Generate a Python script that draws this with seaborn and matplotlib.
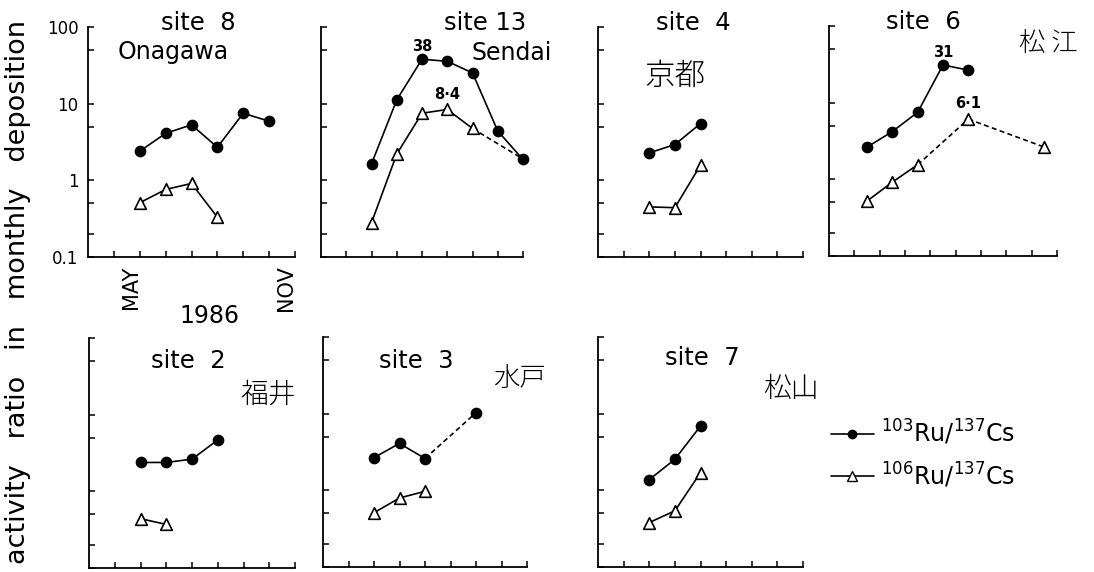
import numpy as np
import pandas as pd
import matplotlib
matplotlib.use("Agg")
import matplotlib.pyplot as plt
import seaborn as sns
from matplotlib.lines import Line2D
from matplotlib.ticker import NullLocator, FixedLocator, FixedFormatter
from matplotlib.transforms import ScaledTranslation

sns.set_style("ticks")
plt.rcParams["font.family"] = ["DejaVu Sans", "Noto Sans CJK JP"]
plt.rcParams["mathtext.fontset"] = "dejavusans"
for k in ("text.color", "axes.labelcolor", "xtick.color", "ytick.color", "axes.edgecolor"):
    plt.rcParams[k] = "black"

nan = np.nan

# ---- activity ratios in monthly deposition, 1986 (month number 5 = May) ----
site8_months = [5, 6, 7, 8, 9, 10]
site8_ru103 = [2.4, 4.1, 5.3, 2.7, 7.5, 5.9]
site8_ru106 = [0.51, 0.76, 0.91, 0.33, nan, nan]

site13_months = [5, 6, 7, 8, 9, 10, 11]
site13_ru103 = [1.64, 11.2, 38, 35.7, 25.2, 4.4, 1.87]
site13_ru106 = [0.28, 2.2, 7.5, 8.4, 4.75, nan, 1.9]
site13_ru106_trend_only = [11]          # trend end point, no marker

site4_months = [5, 6, 7]
site4_ru103 = [2.28, 2.93, 5.5]
site4_ru106 = [0.45, 0.44, 1.58]

site6_months = [5, 6, 7, 8, 9, 10, 11, 12]
site6_ru103 = [2.63, 4.2, 7.5, 31, 26.6, nan, nan, nan]
site6_ru106 = [0.52, 0.92, 1.55, nan, 6.1, nan, nan, 2.63]

site2_months = [5, 6, 7, 8]
site2_ru103 = [2.38, 2.38, 2.63, 4.68]
site2_ru106 = [0.44, 0.37, nan, nan]

site3_months = [5, 6, 7, 8, 9]
site3_ru103 = [2.67, 4.09, 2.6, nan, 10.3]
site3_ru106 = [0.51, 0.795, 0.97, nan, nan]

site7_months = [5, 6, 7]
site7_ru103 = [1.38, 2.54, 6.9]
site7_ru106 = [0.38, 0.54, 1.7]

# peak values written beside the curves
peak_labels = [("site 13", "ru103", 7), ("site 13", "ru106", 8),
               ("site 6", "ru103", 8), ("site 6", "ru106", 9)]

y_ticks = [0.1, 0.2, 0.5, 1, 5, 10, 50, 100]
y_tick_labels = ["0.1", "", "", "1", "", "10", "", "100"]
legend_labels = [r"$^{103}$Ru/$^{137}$Cs", r"$^{106}$Ru/$^{137}$Cs"]

W, H = 1094, 572
fig = plt.figure(figsize=(W / 100, H / 100), dpi=100)

# panel boxes in pixels: left, right, top, bottom
panels = {
    "site 8":  dict(box=(88, 295, 27, 257), months=site8_months, ru103=site8_ru103, ru106=site8_ru106, xlim=(3, 11)),
    "site 13": dict(box=(321, 523, 27, 257), months=site13_months, ru103=site13_ru103, ru106=site13_ru106, xlim=(3, 11)),
    "site 4":  dict(box=(598, 803, 27, 257), months=site4_months, ru103=site4_ru103, ru106=site4_ru106, xlim=(3, 11)),
    "site 6":  dict(box=(829, 1057, 26, 256), months=site6_months, ru103=site6_ru103, ru106=site6_ru106, xlim=(3.5, 12.5)),
    "site 2":  dict(box=(89, 295, 338, 568), months=site2_months, ru103=site2_ru103, ru106=site2_ru106, xlim=(3, 11)),
    "site 3":  dict(box=(323, 527, 337, 567), months=site3_months, ru103=site3_ru103, ru106=site3_ru106, xlim=(3, 11)),
    "site 7":  dict(box=(598, 803, 337, 567), months=site7_months, ru103=site7_ru103, ru106=site7_ru106, xlim=(3, 11)),
}

styles = {
    "ru103": dict(marker="o", s=52, color="black", edgecolor="black"),
    "ru106": dict(marker="^", s=70, color="white", edgecolor="black"),
}
LW = 1.2
DASH = (0, (3, 2))


def draw_series(ax, months, values, key, no_marker=()):
    df = pd.DataFrame({"month": months, "value": values}).dropna().reset_index(drop=True)
    df["run"] = (df["month"].diff() != 1).cumsum()
    # solid line through consecutive months
    for _, run in df.groupby("run"):
        if len(run) > 1:
            sns.lineplot(data=run, x="month", y="value", ax=ax, color="black", lw=LW,
                         estimator=None, sort=False, legend=False, zorder=2)
    # dashed connector across missing months
    for i in range(1, len(df)):
        if df.loc[i, "month"] - df.loc[i - 1, "month"] > 1:
            seg = df.loc[i - 1:i]
            sns.lineplot(data=seg, x="month", y="value", ax=ax, color="black", lw=LW,
                         linestyle=DASH, estimator=None, sort=False, legend=False, zorder=2)
    pts = df[~df["month"].isin(no_marker)]
    st = styles[key]
    sns.scatterplot(data=pts, x="month", y="value", ax=ax, marker=st["marker"], s=st["s"],
                    color=st["color"], edgecolor=st["edgecolor"], linewidth=1.2,
                    legend=False, zorder=3, clip_on=False)
    return df


axes = {}
for name, p in panels.items():
    l, r, t, b = p["box"]
    ax = fig.add_axes([l / W, 1 - b / H, (r - l) / W, (b - t) / H])
    axes[name] = ax
    ax.set_yscale("log")
    draw_series(ax, p["months"], p["ru103"], "ru103")
    no_mark = site13_ru106_trend_only if name == "site 13" else ()
    draw_series(ax, p["months"], p["ru106"], "ru106", no_marker=no_mark)

    ax.set_ylim(0.1, 100)
    x0, x1 = p["xlim"]
    ax.set_xlim(x0, x1)
    ax.set_xticks(np.arange(x0 + 1, x1 + 0.01, 1.0))
    ax.set_xticklabels([])
    ax.yaxis.set_major_locator(FixedLocator(y_ticks))
    ax.yaxis.set_minor_locator(NullLocator())
    ax.yaxis.set_major_formatter(FixedFormatter([""] * len(y_ticks)))
    ax.set_xlabel("")
    ax.set_ylabel("")
    for side in ("top", "right"):
        ax.spines[side].set_visible(False)
    for side in ("left", "bottom"):
        ax.spines[side].set_linewidth(1.3)
    ax.tick_params(direction="in", length=4, width=1.1, colors="black")
    ax.patch.set_alpha(0)

# value and month labels on the first panel
ax0 = axes["site 8"]
ax0.yaxis.set_major_formatter(FixedFormatter(y_tick_labels))
ax0.tick_params(axis="y", labelsize=12, pad=7)
month_ticks = np.arange(4, 12)
month_names = ["", "MAY", "", "", "", "", "", "NOV"]
ax0.set_xticks(month_ticks)
ax0.set_xticklabels(month_names, rotation=90, fontsize=15, va="top")
ax0.tick_params(axis="x", pad=6)
shift = ScaledTranslation(-9 / 100, 0, fig.dpi_scale_trans)
for lab in ax0.get_xticklabels():
    lab.set_transform(lab.get_transform() + shift)

# peak values
for name, key, month in peak_labels:
    p = panels[name]
    v = p[key][p["months"].index(month)]
    txt = f"{v:g}".replace(".", "\u00b7")
    off = 9 if key == "ru103" else 11
    axes[name].annotate(txt, (month, v), xytext=(0, off), textcoords="offset points",
                        ha="center", va="center", fontsize=10.5, fontweight="bold")


def ftext(x, y, s, **kw):
    fig.text(x / W, 1 - y / H, s, ha="center", va="center", **kw)


title_kw = dict(fontsize=17.5)
ftext(198, 23, "site  8", **title_kw)
ftext(485, 23, "site 13", **title_kw)
ftext(693, 23, "site  4", **title_kw)
ftext(923, 22, "site  6", **title_kw)
ftext(188, 361, "site  2", **title_kw)
ftext(416, 361, "site  3", **title_kw)
ftext(702, 358, "site  7", **title_kw)
ftext(173, 52, "Onagawa", fontsize=17)
ftext(512, 53, "Sendai", fontsize=17)
ftext(209, 316, "1986", fontsize=17)

fig.text(18 / W, 1 - 292 / H, "activity   ratio   in   monthly   deposition",
         rotation=90, ha="center", va="center", fontsize=19.5)

cjk = dict(family=["Noto Sans CJK JP"], fontweight="light")
ftext(675, 76, "京都", fontsize=22, **cjk)
ftext(1048, 44, "松 江", fontsize=19, **cjk)
ftext(268, 395, "福井", fontsize=20, **cjk)
ftext(519, 378, "水戸", fontsize=19, **cjk)
ftext(791, 389, "松山", fontsize=20, **cjk)

handles = [
    Line2D([], [], color="black", lw=LW, marker="o", markersize=6, markerfacecolor="black"),
    Line2D([], [], color="black", lw=LW, marker="^", markersize=7, markerfacecolor="white",
           markeredgecolor="black"),
]
fig.legend(handles, legend_labels, loc="center left",
           bbox_to_anchor=(831 / W, 1 - 454 / H), frameon=False, fontsize=17,
           handlelength=1.8, handletextpad=0.3, labelspacing=0.55,
           borderpad=0, borderaxespad=0)

fig.savefig("out.png", dpi=100, facecolor="white")
